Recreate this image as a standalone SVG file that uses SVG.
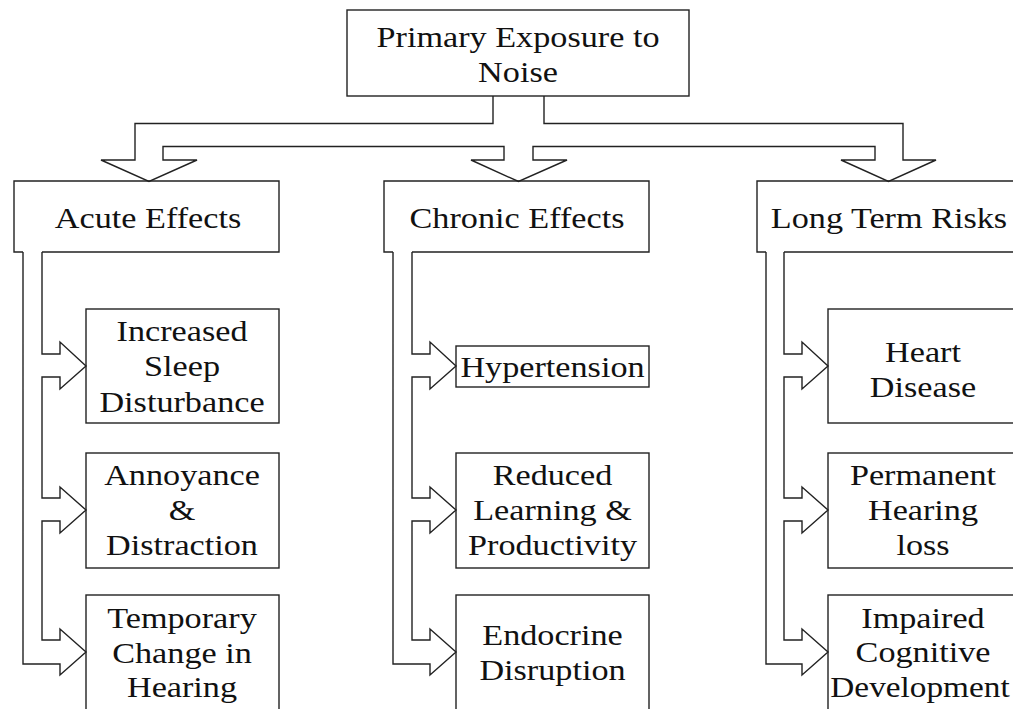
<svg xmlns="http://www.w3.org/2000/svg" width="1013" height="709" viewBox="0 0 1013 709">
<style>
  .bx{fill:none;stroke:#222;stroke-width:1.4}
  .cn{fill:none;stroke:#222;stroke-width:1.4;stroke-linejoin:miter}
  text{font-family:"Liberation Serif","Times New Roman",serif;font-size:30px;fill:#111;text-anchor:middle}
</style>
<rect x="0" y="0" width="1013" height="709" fill="#ffffff"/>
<g id="connectors">
  <path class="cn" d="M493,96 V123.5 H135 V160 H101 L149,181.5 L197,160 H163 V146.5 H504 V160 H471 L518.5,181.5 L567,160 H533 V146.5 H875 V160 H841 L888.5,181.5 L936,160 H903 V123.5 H544 V96"/>
  <path class="cn" d="M23,252 V664 H60 V675 L86,652 L60,629 V640 H42 V521 H60 V533 L86,510 L60,487 V498 H42 V377 H60 V389 L86,366 L60,342 V354 H42 V252"/>
  <path class="cn" d="M393,252 V664 H430 V675 L456,652 L430,629 V640 H412 V521 H430 V533 L456,510 L430,487 V498 H412 V377 H430 V389 L456,366 L430,342 V354 H412 V252"/>
  <path class="cn" d="M766,252 V664 H802 V675 L828,652 L802,629 V640 H784 V521 H802 V533 L828,510 L802,487 V498 H784 V377 H802 V389 L828,366 L802,342 V354 H784 V252"/>
</g>
<g id="primary">
  <rect class="bx" x="347" y="10" width="342" height="86"/>
  <text transform="translate(518,47) scale(1.14,1)"><tspan x="0" y="0">Primary Exposure to</tspan><tspan x="0" y="35">Noise</tspan></text>
</g>
<g id="acute">
  <path class="bx" d="M42,252 H279 V181 H14 V252 H23"/>
  <text transform="translate(148,228) scale(1.14,1)">Acute Effects</text>
</g>
<g id="chronic">
  <path class="bx" d="M412,252 H649 V181 H384 V252 H393"/>
  <text transform="translate(517,228) scale(1.14,1)">Chronic Effects</text>
</g>
<g id="longterm">
  <path class="bx" d="M784,252 H1022 V181 H757 V252 H766"/>
  <text transform="translate(889,228) scale(1.14,1)">Long Term Risks</text>
</g>
<g id="sleep">
  <rect class="bx" x="86" y="309" width="193" height="114"/>
  <text transform="translate(182,341) scale(1.14,1)"><tspan x="0" y="0">Increased</tspan><tspan x="0" y="35.5">Sleep</tspan><tspan x="0" y="71">Disturbance</tspan></text>
</g>
<g id="annoyance">
  <rect class="bx" x="86" y="453" width="193" height="115"/>
  <text transform="translate(182,485) scale(1.14,1)"><tspan x="0" y="0">Annoyance</tspan><tspan x="0" y="35">&amp;</tspan><tspan x="0" y="70">Distraction</tspan></text>
</g>
<g id="temporary">
  <rect class="bx" x="86" y="595" width="193" height="120"/>
  <text transform="translate(182,628) scale(1.14,1)"><tspan x="0" y="0">Temporary</tspan><tspan x="0" y="35">Change in</tspan><tspan x="0" y="69.5">Hearing</tspan></text>
</g>
<g id="hypertension">
  <rect class="bx" x="456" y="346" width="193" height="41"/>
  <text transform="translate(552.5,377) scale(1.14,1)">Hypertension</text>
</g>
<g id="learning">
  <rect class="bx" x="456" y="453" width="193" height="115"/>
  <text transform="translate(552.5,485) scale(1.14,1)"><tspan x="0" y="0">Reduced</tspan><tspan x="0" y="35.5">Learning &amp;</tspan><tspan x="0" y="70">Productivity</tspan></text>
</g>
<g id="endocrine">
  <rect class="bx" x="456" y="595" width="193" height="120"/>
  <text transform="translate(552.5,645) scale(1.14,1)"><tspan x="0" y="0">Endocrine</tspan><tspan x="0" y="35">Disruption</tspan></text>
</g>
<g id="heart">
  <rect class="bx" x="828" y="309" width="193" height="114"/>
  <text transform="translate(923,362) scale(1.14,1)"><tspan x="0" y="0">Heart</tspan><tspan x="0" y="35">Disease</tspan></text>
</g>
<g id="permanent">
  <rect class="bx" x="828" y="453" width="193" height="115"/>
  <text transform="translate(923,485) scale(1.14,1)"><tspan x="0" y="0">Permanent</tspan><tspan x="0" y="35">Hearing</tspan><tspan x="0" y="70">loss</tspan></text>
</g>
<g id="cognitive">
  <rect class="bx" x="828" y="595" width="193" height="120"/>
  <text transform="translate(923,628) scale(1.14,1)"><tspan x="0" y="0">Impaired</tspan><tspan x="0" y="34.5">Cognitive</tspan></text>
  <text transform="translate(920,697) scale(1.11,1)">Development</text>
</g>
</svg>
